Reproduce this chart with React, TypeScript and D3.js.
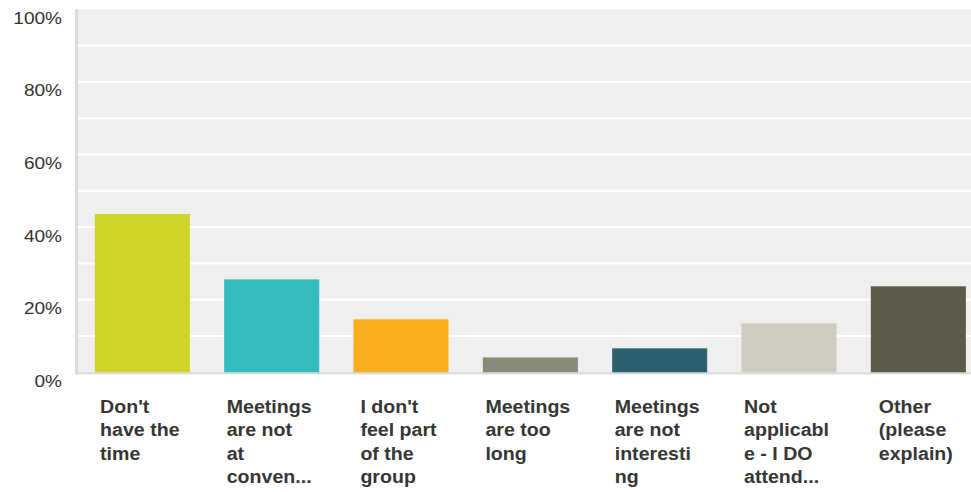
import React from "react";
import * as d3 from "d3";

const categories: string[][] = [
  ["Don't", "have the", "time"],
  ["Meetings", "are not", "at", "conven..."],
  ["I don't", "feel part", "of the", "group"],
  ["Meetings", "are too", "long"],
  ["Meetings", "are not", "interesti", "ng"],
  ["Not", "applicabl", "e - I DO", "attend..."],
  ["Other", "(please", "explain)"],
];
const values: number[] = [43.6, 25.6, 14.6, 4.1, 6.6, 13.5, 23.7];
const colors: string[] = ["#cfd42a", "#33bcbe", "#f7af1f", "#898a78", "#2d616f", "#cfcdbf", "#5c5a4a"];
const yTicks: number[] = [0, 20, 40, 60, 80, 100];
const gridTicks: number[] = [10, 20, 30, 40, 50, 60, 70, 80, 90];

const W = 971;
const H = 492;
const left = 78;
const top = 9.3;
const bottom = 372.3;

const FONT = "'Liberation Sans', Arial, sans-serif";
const LABEL_SIZE = 17.5;
const SX = 1.12;

function measure(text: string, font: string): number {
  const c = document.createElement("canvas").getContext("2d");
  if (!c) return text.length * 10;
  c.font = font;
  return c.measureText(text).width;
}

export default function App() {
  const y = d3.scaleLinear().domain([0, 100]).range([bottom, top]);
  const x = d3
    .scaleBand<number>()
    .domain(d3.range(values.length))
    .range([left, 982.7])
    .paddingInner(0.265)
    .paddingOuter(0.13);

  const labelFont = `bold ${LABEL_SIZE}px ${FONT}`;

  return (
    <svg
      width={W}
      height={H}
      style={{ position: "absolute", left: 0, top: 0, display: "block" }}
    >
      <rect x={left} y={top} width={W - left} height={bottom - top} fill="#efefef" />
      {gridTicks.map((t) => (
        <line key={t} x1={left} x2={W} y1={y(t)} y2={y(t)} stroke="#ffffff" strokeWidth={2} />
      ))}
      <line x1={76.5} x2={76.5} y1={top} y2={bottom + 2} stroke="#dcdcdc" strokeWidth={3} />
      <line x1={76} x2={W} y1={bottom + 1} y2={bottom + 1} stroke="#d8d8d8" strokeWidth={2} />
      {values.map((v, i) => (
        <rect
          key={i}
          x={x(i)}
          y={y(v)}
          width={x.bandwidth()}
          height={y(0) - y(v)}
          fill={colors[i]}
        />
      ))}
      {yTicks.map((t) => (
        <g key={t} transform={`translate(62,${y(t) + 14.5}) scale(${SX},1)`}>
          <text
            x={0}
            y={0}
            textAnchor="end"
            fontFamily={FONT}
            fontSize={17}
            fill="#333333"
          >
            {t}%
          </text>
        </g>
      ))}
      {categories.map((lines, i) => {
        const maxW = SX * Math.max(...lines.map((l) => measure(l, labelFont)));
        const cx = (x(i) as number) + x.bandwidth() / 2;
        const lx = cx - maxW / 2 - 2.5;
        return (
          <g key={i} transform={`translate(${lx},0) scale(${SX},1)`}>
            <text
              fontFamily={FONT}
              fontSize={LABEL_SIZE}
              fontWeight="bold"
              fill="#363636"
            >
              {lines.map((l, j) => (
                <tspan key={j} x={0} y={413 + j * 23.3}>
                  {l}
                </tspan>
              ))}
            </text>
          </g>
        );
      })}
    </svg>
  );
}
